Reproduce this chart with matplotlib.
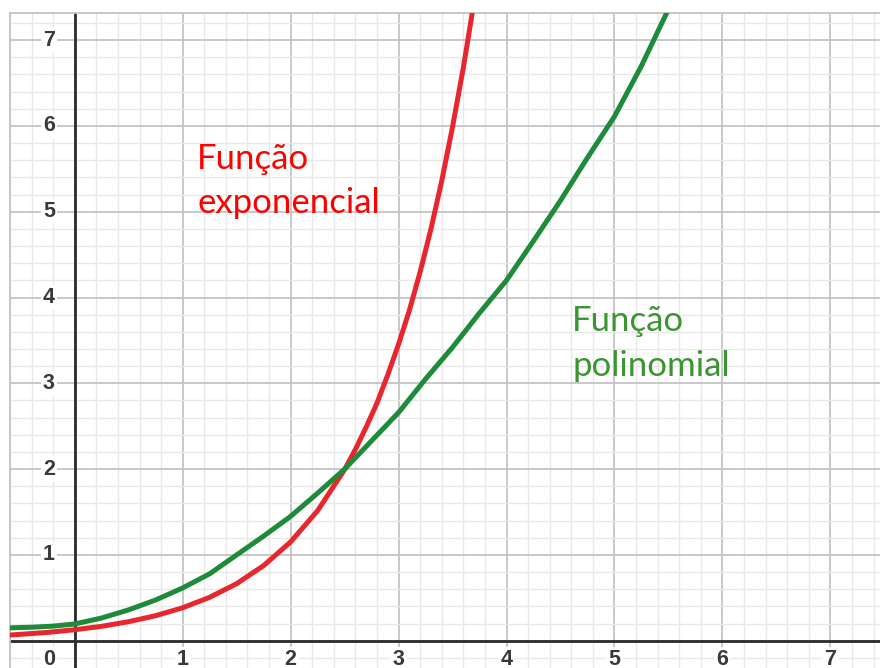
import matplotlib
matplotlib.use('Agg')
import matplotlib.pyplot as plt
from matplotlib.ticker import MultipleLocator

# values
exp_x = [-0.6, -0.25, 0, 0.25, 0.5, 0.75, 1, 1.25, 1.5, 1.75, 2, 2.25, 2.5,
         2.6, 2.7, 2.8, 2.9, 3.0, 3.1, 3.2, 3.3, 3.4, 3.5, 3.6, 3.7]
exp_y = [0.066, 0.097, 0.128, 0.168, 0.222, 0.292, 0.384, 0.506, 0.665, 0.876, 1.152, 1.516, 1.995,
         2.23, 2.49, 2.77, 3.10, 3.456, 3.85, 4.30, 4.80, 5.36, 5.99, 6.68, 7.45]

pol_x = [-0.6, -0.4, -0.2, 0, 0.25, 0.5, 0.75, 1, 1.25, 1.5, 1.75, 2, 2.25, 2.5,
         2.75, 3, 3.25, 3.5, 3.75, 4, 4.25, 4.5, 4.75, 5, 5.25, 5.5]
pol_y = [0.15, 0.157, 0.17, 0.195, 0.265, 0.36, 0.475, 0.615, 0.78, 1.0, 1.22, 1.45, 1.72, 2.0,
         2.33, 2.66, 3.05, 3.42, 3.82, 4.2, 4.66, 5.13, 5.63, 6.11, 6.70, 7.36]

x_ticks = [0, 1, 2, 3, 4, 5, 6, 7]
y_ticks = [1, 2, 3, 4, 5, 6, 7]

fig = plt.figure(figsize=(8.8, 6.68), dpi=100)
ax = fig.add_axes([10 / 880, 0, 870 / 880, 655 / 668])
ax.set_xlim(-0.6, 7.46)
ax.set_ylim(-0.318, 7.316)

# grid like graph paper
ax.xaxis.set_major_locator(MultipleLocator(1))
ax.xaxis.set_minor_locator(MultipleLocator(0.2))
ax.yaxis.set_major_locator(MultipleLocator(1))
ax.yaxis.set_minor_locator(MultipleLocator(0.2))
ax.grid(which='minor', color='#e8e8e8', linewidth=1.0)
ax.grid(which='major', color='#c4c4c4', linewidth=1.3)
ax.tick_params(which='both', length=0, labelbottom=False, labelleft=False)
ax.set_axisbelow(True)

for s in ['right', 'bottom']:
    ax.spines[s].set_visible(False)
for s in ['top', 'left']:
    ax.spines[s].set_color('#c4c4c4')
    ax.spines[s].set_linewidth(1.3)

# axes through origin
ax.axhline(0, color='#2b2b2b', linewidth=2, zorder=2)
ax.axvline(0, color='#2b2b2b', linewidth=2, zorder=2)

# tick labels
lab = dict(fontsize=15.5, color='#3a3a3a', family='Liberation Sans', weight='bold',
           ha='center', va='center',
           bbox=dict(facecolor='white', edgecolor='none', pad=1.5), zorder=3)
for v in y_ticks:
    ax.text(-0.24, v, str(v), **lab)
for v in x_ticks:
    xp = -0.24 if v == 0 else v
    ax.text(xp, -0.215, str(v), **lab)

# curves
ax.plot(exp_x, exp_y, color='#e8262e', linewidth=3.6, solid_capstyle='round',
        solid_joinstyle='round', zorder=4)
ax.plot(pol_x, pol_y, color='#1e8b3a', linewidth=3.6, solid_capstyle='round',
        solid_joinstyle='round', zorder=4)

# labels
ax.text(1.135, 5.50, 'Função', color='#ff0000', fontsize=25, family='Lato', zorder=5)
ax.text(1.135, 4.98, 'exponencial', color='#ff0000', fontsize=25, family='Lato', zorder=5)
ax.text(4.61, 3.61, 'Função', color='#3d9432', fontsize=25, family='Lato', zorder=5)
ax.text(4.61, 3.08, 'polinomial', color='#3d9432', fontsize=25, family='Lato', zorder=5)

fig.savefig('out.png', dpi=100)
